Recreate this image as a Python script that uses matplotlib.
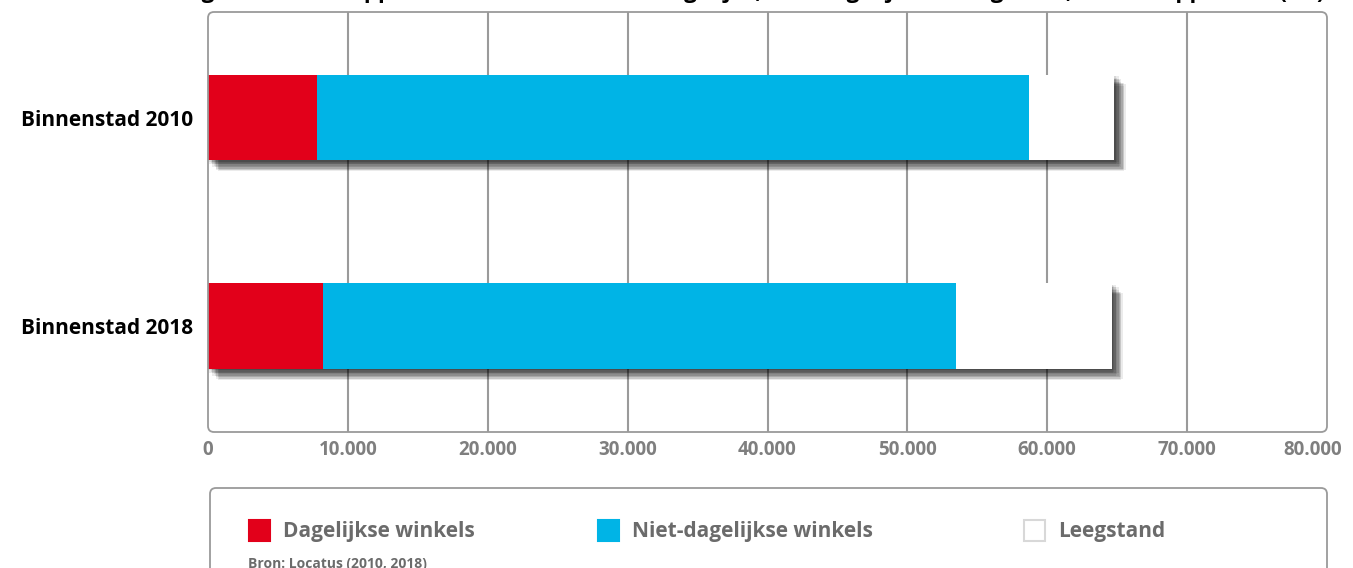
import matplotlib
matplotlib.use("Agg")
import matplotlib.pyplot as plt
import matplotlib.patheffects as pe
from matplotlib.patches import FancyBboxPatch, Rectangle
from matplotlib.transforms import IdentityTransform, ScaledTranslation
from matplotlib.ticker import FuncFormatter

# ── Data (m² winkelvloeroppervlak) ───────────────────────────────────────────
categories = ["Binnenstad 2010", "Binnenstad 2018"]
dagelijks = [7800, 8200]
niet_dagelijks = [50900, 45300]
leegstand = [6100, 11100]
series_names = ["Dagelijkse winkels", "Niet-dagelijkse winkels", "Leegstand"]
x_ticks = [0, 10000, 20000, 30000, 40000, 50000, 60000, 70000, 80000]
title = ("Verdeling winkelvloeroppervlak binnenstad naar dagelijks, "
         "niet-dagelijks en leegstand, in vloeroppervlak (m²)")
source = "Bron: Locatus (2010, 2018)"

RED = "#E2001A"
BLUE = "#00B4E6"
EMPTY = "#FFFFFF"
GRID = "#9A9A9A"
TICK = "#7F7F7F"
LEG_TXT = "#6B6B6B"

plt.rcParams.update({
    "font.family": ["Open Sans", "DejaVu Sans"],
    "font.weight": "bold",
})

W, H = 1353, 568
fig = plt.figure(figsize=(W / 100, H / 100), dpi=100)
# plot area in pixels: x 208..1327, y 12..432
ax = fig.add_axes([208 / W, 1 - 432 / H, 1119 / W, 420 / H])
ax.set_xlim(0, 80000)
ax.set_ylim(1.508, -0.506)
for s in ax.spines.values():
    s.set_visible(False)

for xv in x_ticks[1:-1]:
    ax.axvline(xv, color=GRID, lw=1.5, zorder=0)

ypos = list(range(len(categories)))
totals = [a + b + c for a, b, c in zip(dagelijks, niet_dagelijks, leegstand)]
h = 0.41

# soft drop shadow behind each full bar (stacked offsets fake a blur)
shadows = []
for dx, dy in [(1, -1), (2, -2), (3, -3), (4, -4), (5, -5), (6, -6), (7, -6),
               (6, -7), (8, -7), (7, -8), (3, -1), (1, -3), (5, -3), (3, -5)]:
    shadows.append(pe.SimplePatchShadow(offset=(dx, dy), shadow_rgbFace="black",
                                        alpha=0.08))
ax.barh(ypos, totals, height=h, color="white", zorder=1, lw=0,
        path_effects=shadows)

left = [0, 0]
for vals, col in [(dagelijks, RED), (niet_dagelijks, BLUE), (leegstand, EMPTY)]:
    ax.barh(ypos, vals, left=left, height=h, color=col, lw=0, zorder=2)
    left = [l + v for l, v in zip(left, vals)]

ax.set_yticks(ypos)
ax.set_yticklabels(categories, fontsize=15, fontweight="bold", color="black")
ax.set_xticks(x_ticks)
ax.xaxis.set_major_formatter(FuncFormatter(lambda v, p: f"{int(v):,}".replace(",", ".")))
ax.tick_params(axis="x", length=0, pad=6, labelsize=13.5, labelcolor=TICK)
ax.tick_params(axis="y", length=0, pad=11)
xlabels = ax.get_xticklabels()
for lab in xlabels:
    lab.set_fontweight("bold")
# last label sits a bit to the left so it stays inside the picture
xlabels[-1].set_transform(xlabels[-1].get_transform()
                          + ScaledTranslation(-14 / 100, 0, fig.dpi_scale_trans))

# rounded frames (pixel coordinates)
ident = IdentityTransform()
fig.patches.append(FancyBboxPatch((208, H - 432), 1119, 420,
                                  boxstyle="round,pad=0,rounding_size=6",
                                  fc="none", ec=GRID, lw=1.3, transform=ident,
                                  figure=fig))
fig.patches.append(FancyBboxPatch((210, -20), 1117, H - 488 + 20,
                                  boxstyle="round,pad=0,rounding_size=6",
                                  fc="none", ec=GRID, lw=1.3, transform=ident,
                                  figure=fig))

# legend
leg_x = [249, 598, 1024]
leg_cols = [RED, BLUE, EMPTY]
for x0, col, name in zip(leg_x, leg_cols, series_names):
    ec = "#D8D8D8" if col == EMPTY else col
    fig.patches.append(Rectangle((x0, H - 541), 21, 21, fc=col, ec=ec, lw=1.5,
                                 transform=ident, figure=fig))
    fig.text((x0 + 34) / W, 1 - 532 / H, name, fontsize=15, fontweight="bold",
             color=LEG_TXT, va="center", ha="left")

fig.text(248 / W, 1 - 568 / H, source, fontsize=10, fontweight="bold",
         color=LEG_TXT, va="baseline", ha="left")

fig.text(0.53, 1 + 2 / H, title, fontsize=16, fontweight="bold",
         color="black", va="baseline", ha="center")

fig.savefig("out.png", dpi=100)
